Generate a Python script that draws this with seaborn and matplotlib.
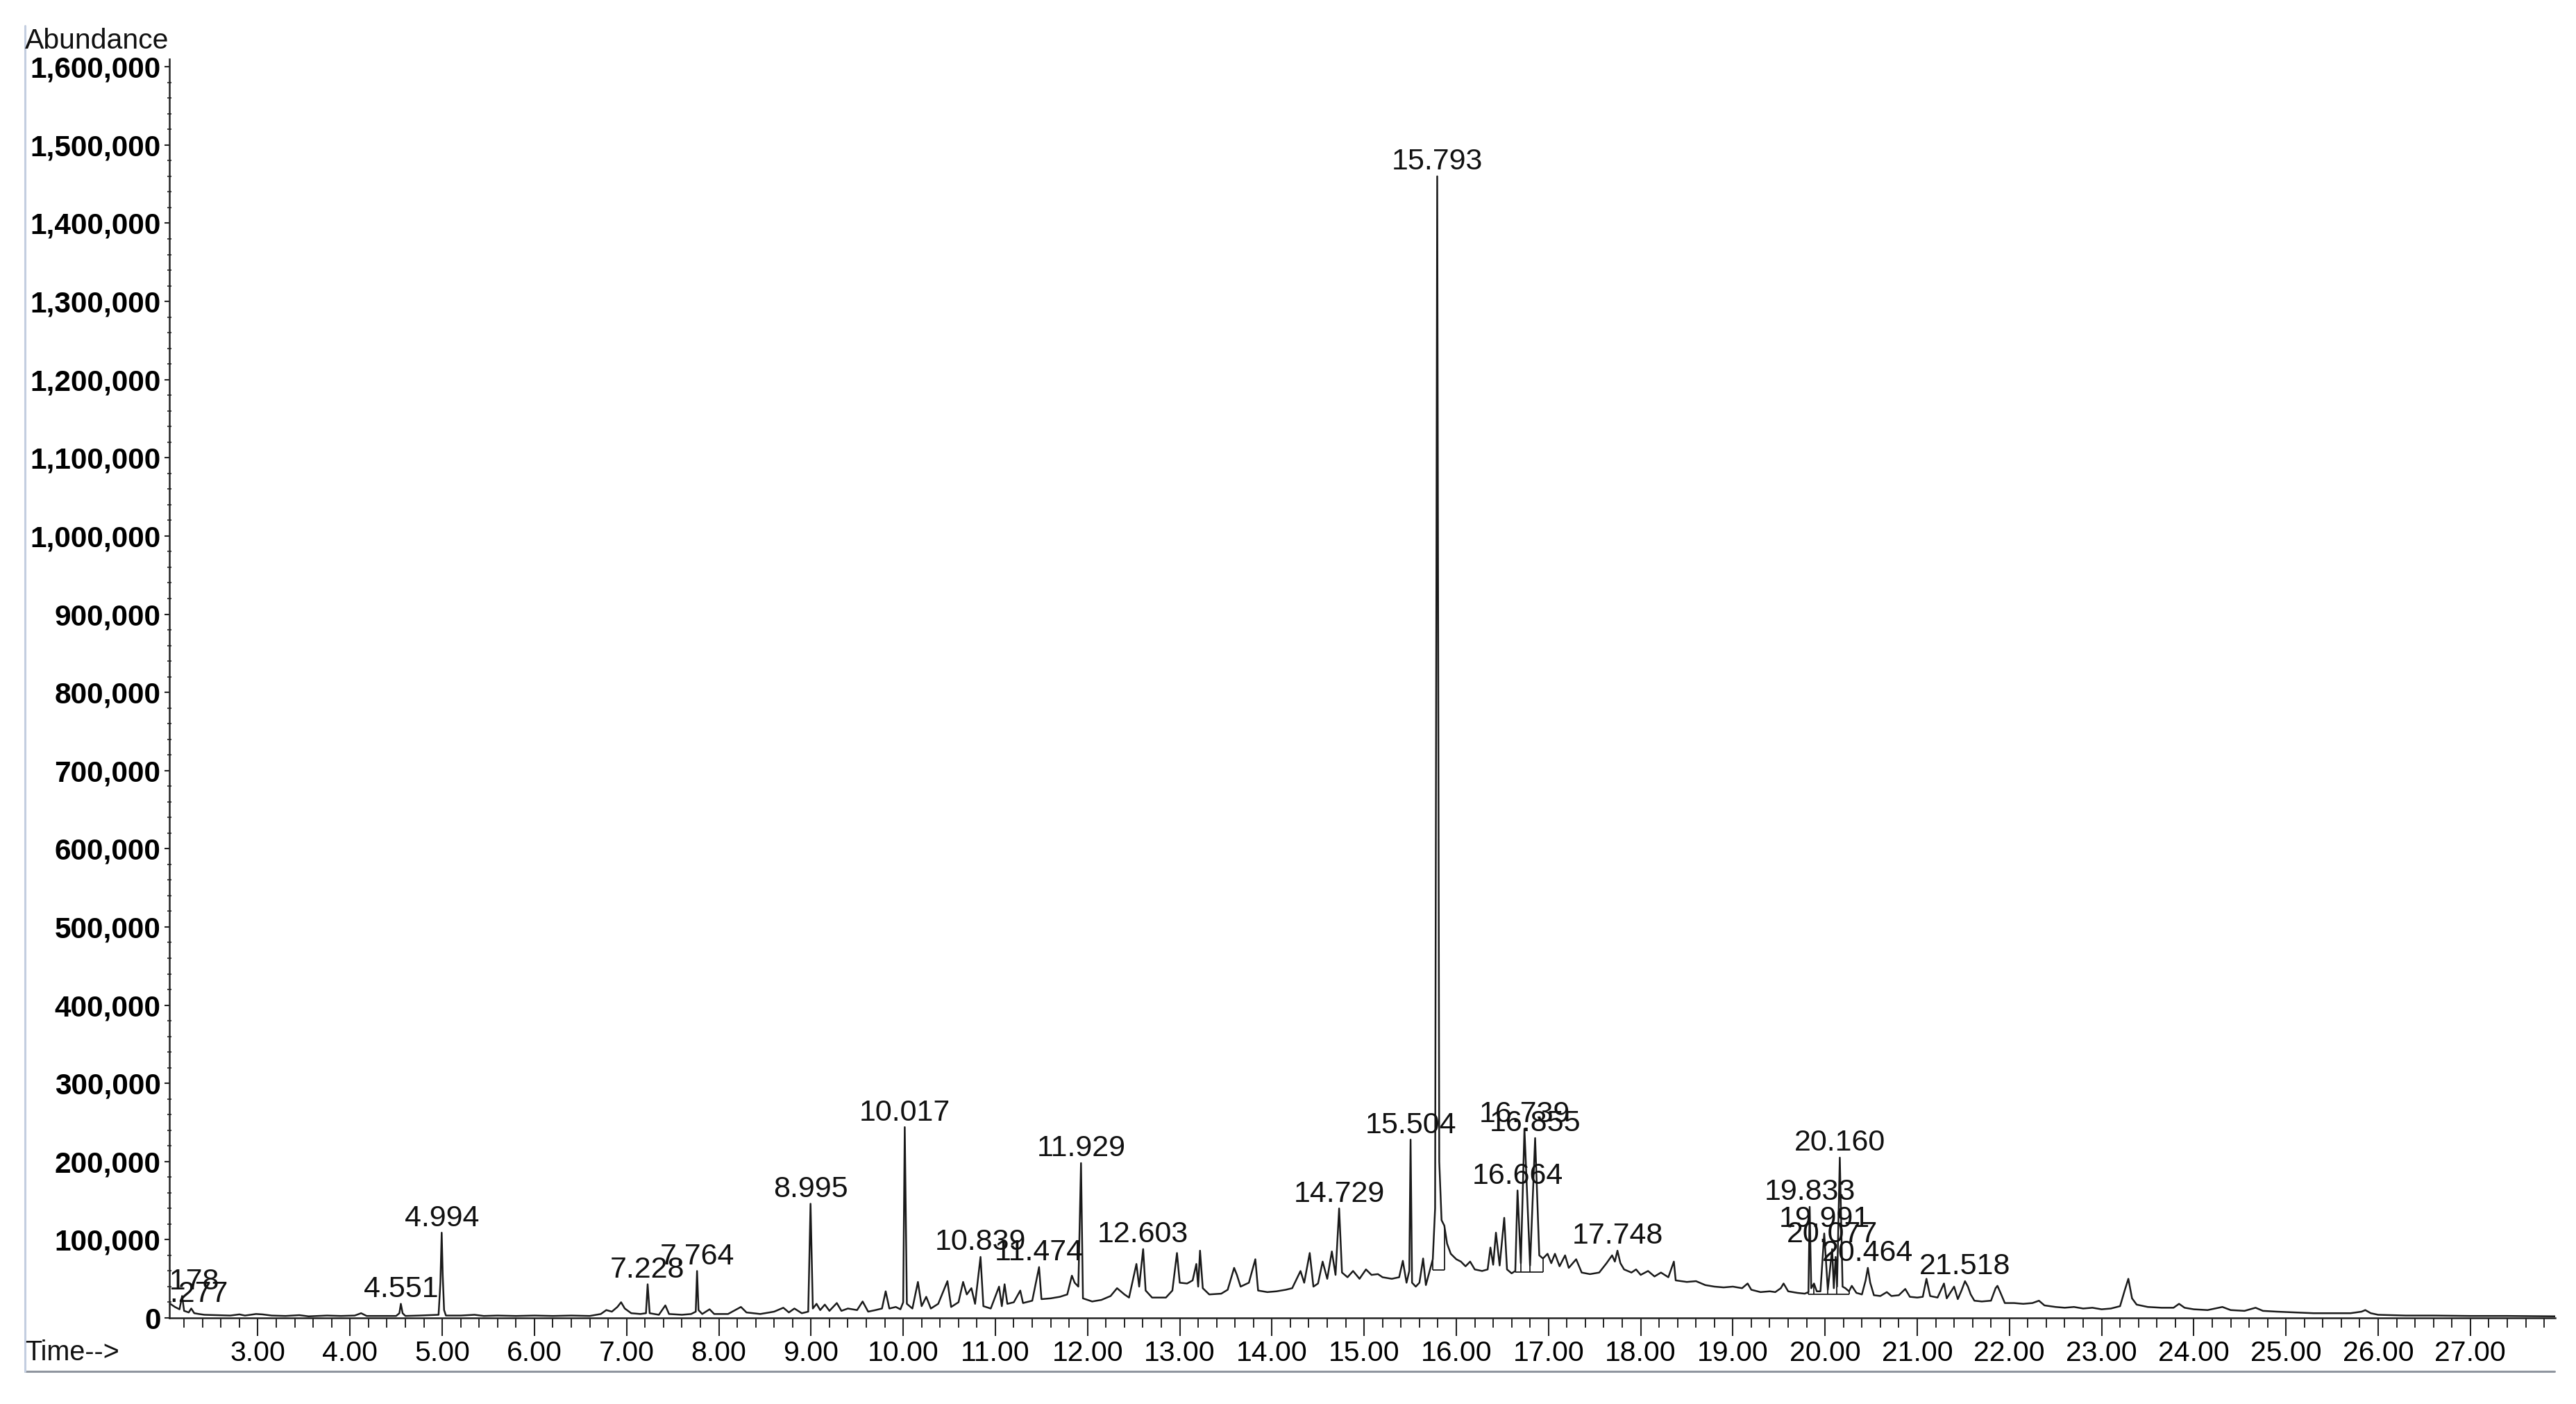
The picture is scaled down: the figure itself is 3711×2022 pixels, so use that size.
import matplotlib
matplotlib.use("Agg")
import numpy as np
import pandas as pd
import matplotlib.pyplot as plt
from matplotlib.lines import Line2D
from matplotlib.ticker import MultipleLocator
import seaborn as sns

# TIC trace: retention time (min) and abundance (x1000 counts)
time_min = [
    2.05, 2.10, 2.15, 2.178, 2.20, 2.25, 2.277, 2.31, 2.36, 2.42, 2.55, 2.70, 2.80, 2.86, 2.98,
    3.05, 3.15, 3.30, 3.45, 3.55, 3.75, 3.90, 4.05, 4.12, 4.18, 4.35, 4.50, 4.535, 4.551, 4.57,
    4.60, 4.75, 4.96, 4.98, 4.994, 5.005, 5.02, 5.04, 5.20, 5.35, 5.45, 5.60, 5.80, 6.00, 6.20,
    6.40, 6.60, 6.72, 6.78, 6.84, 6.90, 6.94, 6.98, 7.05, 7.15, 7.21, 7.228, 7.25, 7.35, 7.42,
    7.46, 7.60, 7.70, 7.75, 7.764, 7.78, 7.82, 7.90, 7.95, 8.10, 8.24, 8.30, 8.45, 8.60, 8.70,
    8.76, 8.82, 8.90, 8.97, 8.995, 9.02, 9.06, 9.10, 9.15, 9.20, 9.28, 9.33, 9.40, 9.50, 9.56,
    9.62, 9.70, 9.77, 9.81, 9.85, 9.92, 9.97, 10.00, 10.017, 10.04, 10.10, 10.16, 10.20, 10.25, 10.30,
    10.38, 10.48, 10.52, 10.60, 10.65, 10.69, 10.74, 10.78, 10.839, 10.87, 10.95, 11.04, 11.07, 11.10, 11.13,
    11.20, 11.27, 11.30, 11.40, 11.474, 11.50, 11.60, 11.70, 11.78, 11.83, 11.86, 11.90, 11.929, 11.95, 12.05,
    12.15, 12.25, 12.32, 12.40, 12.45, 12.53, 12.56, 12.603, 12.63, 12.70, 12.85, 12.92, 12.97, 13.00, 13.08,
    13.14, 13.18, 13.20, 13.22, 13.25, 13.32, 13.45, 13.52, 13.59, 13.62, 13.66, 13.75, 13.82, 13.85, 13.95,
    14.05, 14.15, 14.22, 14.31, 14.35, 14.41, 14.45, 14.50, 14.55, 14.60, 14.65, 14.69, 14.729, 14.76, 14.82,
    14.88, 14.95, 15.02, 15.08, 15.15, 15.20, 15.30, 15.38, 15.42, 15.46, 15.49, 15.504, 15.52, 15.56, 15.60,
    15.64, 15.67, 15.72, 15.745, 15.77, 15.793, 15.815, 15.84, 15.87, 15.90, 15.94, 16.00, 16.05, 16.10, 16.15,
    16.20, 16.28, 16.34, 16.37, 16.40, 16.43, 16.47, 16.52, 16.55, 16.60, 16.64, 16.664, 16.70, 16.739, 16.80,
    16.855, 16.90, 16.94, 16.99, 17.03, 17.07, 17.12, 17.18, 17.22, 17.30, 17.36, 17.45, 17.55, 17.63, 17.69,
    17.72, 17.748, 17.78, 17.82, 17.90, 17.95, 18.00, 18.08, 18.15, 18.22, 18.30, 18.36, 18.38, 18.50, 18.60,
    18.70, 18.80, 18.90, 19.00, 19.10, 19.16, 19.20, 19.30, 19.40, 19.46, 19.52, 19.55, 19.60, 19.70, 19.78,
    19.82, 19.833, 19.85, 19.88, 19.91, 19.95, 19.991, 20.03, 20.077, 20.095, 20.115, 20.13, 20.160, 20.19, 20.22,
    20.26, 20.29, 20.34, 20.40, 20.44, 20.464, 20.49, 20.53, 20.60, 20.67, 20.72, 20.80, 20.87, 20.92, 21.00,
    21.06, 21.10, 21.14, 21.22, 21.29, 21.32, 21.40, 21.44, 21.48, 21.518, 21.55, 21.58, 21.62, 21.70, 21.80,
    21.85, 21.87, 21.90, 21.95, 22.05, 22.15, 22.25, 22.32, 22.38, 22.50, 22.60, 22.70, 22.80, 22.90, 23.00,
    23.10, 23.20, 23.25, 23.29, 23.33, 23.38, 23.50, 23.65, 23.78, 23.84, 23.90, 24.00, 24.15, 24.31, 24.40,
    24.55, 24.67, 24.75, 24.90, 25.10, 25.30, 25.50, 25.70, 25.82, 25.86, 25.92, 26.00, 26.30, 26.60, 27.00,
    27.40, 27.92,
]
abundance_k = [
    18, 14, 11, 28, 9, 7, 12, 6, 5, 4, 3.5, 3, 4.5, 3, 5,
    4.5, 3, 2.5, 3.5, 2, 3, 2.5, 3, 6, 2.5, 2.5, 2.5, 6, 18, 6,
    2.5, 3, 4, 45, 109, 55, 10, 3, 3, 4, 2.5, 3, 2.5, 3, 2.5,
    3, 2.5, 5, 10, 8, 14, 20, 12, 6, 5, 6, 43, 6, 4, 16,
    5, 4, 5, 8, 60, 10, 5, 11, 5, 5, 14, 7, 5, 8, 13,
    7, 12, 6, 8, 146, 12, 18, 10, 17, 9, 19, 9, 12, 10, 21,
    8, 10, 12, 34, 12, 14, 11, 20, 244, 18, 12, 46, 15, 27, 12,
    18, 47, 14, 20, 46, 30, 38, 18, 78, 15, 12, 40, 15, 43, 18,
    20, 35, 19, 22, 65, 24, 25, 27, 30, 54, 45, 40, 198, 25, 21,
    23, 28, 38, 30, 26, 69, 40, 88, 35, 26, 26, 35, 83, 45, 44,
    48, 69, 40, 86, 38, 30, 31, 36, 64, 55, 40, 45, 75, 35, 33,
    34, 36, 38, 60, 45, 83, 40, 44, 72, 50, 85, 55, 140, 58, 52,
    60, 50, 62, 55, 56, 52, 50, 52, 73, 45, 60, 228, 45, 40, 45,
    76, 42, 64, 75, 140, 1460, 200, 125, 118, 95, 82, 75, 72, 66, 72,
    62, 60, 62, 90, 68, 109, 67, 128, 62, 57, 60, 163, 70, 242, 67,
    230, 80, 76, 82, 70, 82, 66, 80, 64, 75, 58, 56, 58, 70, 80,
    72, 86, 70, 62, 58, 62, 55, 60, 53, 58, 52, 72, 48, 46, 47,
    42, 40, 39, 40, 38, 44, 36, 33, 34, 33, 38, 44, 34, 32, 31,
    33, 142, 38, 44, 34, 34, 108, 36, 88, 38, 78, 40, 205, 40, 38,
    34, 41, 32, 30, 48, 64, 45, 29, 28, 33, 28, 29, 37, 27, 26,
    27, 50, 28, 26, 44, 25, 40, 24, 35, 47, 40, 30, 22, 21, 22,
    38, 41, 33, 19, 19, 18, 19, 22, 16, 14, 13, 14, 12, 13, 11,
    12, 15, 35, 50, 25, 17, 14, 13, 13, 18, 13, 11, 10, 14, 10,
    9, 13, 9, 8, 7, 6, 6, 6, 8, 10, 6, 4, 3, 3, 2.5,
    2.5, 2,
]

# retention times printed above the integrated peaks
labelled_rt = [
    "2.178", "2.277", "4.551", "4.994", "7.228", "7.764", "8.995", "10.017", "10.839",
    "11.474", "11.929", "12.603", "14.729", "15.504", "15.793", "16.664", "16.739",
    "16.855", "17.748", "19.833", "19.991", "20.077", "20.160", "20.464", "21.518",
]

# integration baselines drawn by the data system: start, end, level (x1000)
baseline_start = [15.745, 16.64, 19.82]
baseline_end = [15.87, 16.94, 20.26]
baseline_level = [61, 59, 30]
drop_lines = [15.745, 15.87, 16.64, 16.70, 16.80, 16.94, 19.82, 19.88, 20.03, 20.13, 20.26]

x_ticks = list(range(3, 28))
x_tick_labels = [f"{t:.2f}" for t in x_ticks]
y_ticks = list(range(0, 1_600_001, 100_000))
y_tick_labels = [f"{v:,}" for v in y_ticks]

df = pd.DataFrame({"time": time_min, "abundance": np.array(abundance_k) * 1000})

sns.set_style("ticks")
plt.rcParams["font.family"] = ["Liberation Sans", "DejaVu Sans"]

W, H = 3711, 2022
fig = plt.figure(figsize=(W / 100, H / 100), dpi=100)
ax = fig.add_axes([244 / W, 124 / H, (3681 - 244) / W, (1898 - 85) / H])

trace = "#1a1a1a"
sns.lineplot(data=df, x="time", y="abundance", ax=ax, color=trace,
             linewidth=1.8, estimator=None, sort=False)

# integration marks
for t0, t1, lev in zip(baseline_start, baseline_end, baseline_level):
    ax.hlines(lev * 1000, t0, t1, color=trace, linewidth=1.3)
for t in drop_lines:
    lev = [l for a, b, l in zip(baseline_start, baseline_end, baseline_level) if a <= t <= b][0]
    top = np.interp(t, df["time"], df["abundance"])
    ax.vlines(t, lev * 1000, top, color=trace, linewidth=1.3)

# peak labels
apex = dict(zip(df["time"], df["abundance"]))
for lab in labelled_rt:
    rt = float(lab)
    ax.annotate(lab, xy=(rt, apex[rt]), xytext=(0, 7), textcoords="offset points",
                ha="center", va="baseline", fontsize=31, color="#111111",
                clip_on=True)

ax.set_xlim(2.04, 27.92)
ax.set_ylim(0, 1_610_000)
ax.set_xticks(x_ticks, labels=x_tick_labels, fontsize=29.5)
ax.xaxis.set_minor_locator(MultipleLocator(0.2))
ax.set_yticks(y_ticks, labels=y_tick_labels, fontsize=30.5, fontweight="bold")
ax.yaxis.set_minor_locator(MultipleLocator(20_000))
ax.tick_params(axis="x", which="major", direction="out", length=19, width=1.5, pad=4, colors="#222222")
ax.tick_params(axis="x", which="minor", direction="out", length=10, width=1.4, colors="#222222")
ax.tick_params(axis="y", which="major", direction="out", length=5, width=1.5, pad=4, colors="#222222")
ax.tick_params(axis="y", which="minor", direction="inout", length=4, width=1.2, colors="#222222")
for lbl in ax.get_xticklabels() + ax.get_yticklabels():
    lbl.set_color("black")
ax.set_xlabel("")
ax.set_ylabel("")
sns.despine(ax=ax)
for side in ("left", "bottom"):
    ax.spines[side].set_linewidth(1.8)
    ax.spines[side].set_color("#222222")

fig.text(36 / W, 1 - 70 / H, "Abundance", fontsize=29.5, ha="left", va="baseline", color="#111111")
fig.text(36 / W, 1 - 1948 / H, "Time-->", fontsize=28.5, ha="left", va="center", color="#111111")

# scan frame edges
fig.add_artist(Line2D([36 / W, 3680 / W], [1 - 1975 / H] * 2, color="#8f959e", linewidth=2.2))
fig.add_artist(Line2D([36 / W] * 2, [1 - 37 / H, 1 - 1975 / H], color="#c3cee0", linewidth=2.2))

fig.savefig("out.png", dpi=100, facecolor="white")
plt.close(fig)
